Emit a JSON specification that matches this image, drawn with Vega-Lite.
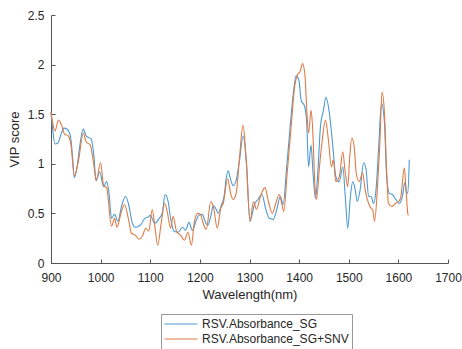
{
  "$schema": "https://vega.github.io/schema/vega-lite/v6.json",
  "width": 397,
  "height": 248,
  "autosize": "none",
  "padding": {"left": 51, "top": 15, "right": 14, "bottom": 86},
  "background": "white",
  "config": {
    "view": {"stroke": null},
    "font": "Liberation Sans",
    "axis": {
      "domainColor": "#555555",
      "tickColor": "#555555",
      "labelColor": "#262626",
      "titleColor": "#262626",
      "labelFont": "Liberation Sans",
      "titleFont": "Liberation Sans",
      "labelFontSize": 12,
      "titleFontSize": 13,
      "titleFontWeight": "normal",
      "grid": false
    }
  },
  "data": {
    "values": [
      {"wavelength": 900, "vip": 1.52, "series": "RSV.Absorbance_SG"},
      {"wavelength": 904, "vip": 1.32, "series": "RSV.Absorbance_SG"},
      {"wavelength": 908, "vip": 1.2, "series": "RSV.Absorbance_SG"},
      {"wavelength": 914, "vip": 1.21, "series": "RSV.Absorbance_SG"},
      {"wavelength": 919, "vip": 1.28, "series": "RSV.Absorbance_SG"},
      {"wavelength": 926, "vip": 1.36, "series": "RSV.Absorbance_SG"},
      {"wavelength": 932, "vip": 1.35, "series": "RSV.Absorbance_SG"},
      {"wavelength": 939, "vip": 1.28, "series": "RSV.Absorbance_SG"},
      {"wavelength": 943, "vip": 1.1, "series": "RSV.Absorbance_SG"},
      {"wavelength": 947, "vip": 0.86, "series": "RSV.Absorbance_SG"},
      {"wavelength": 952, "vip": 0.95, "series": "RSV.Absorbance_SG"},
      {"wavelength": 958, "vip": 1.18, "series": "RSV.Absorbance_SG"},
      {"wavelength": 965, "vip": 1.35, "series": "RSV.Absorbance_SG"},
      {"wavelength": 971, "vip": 1.28, "series": "RSV.Absorbance_SG"},
      {"wavelength": 981, "vip": 1.25, "series": "RSV.Absorbance_SG"},
      {"wavelength": 986, "vip": 1.1, "series": "RSV.Absorbance_SG"},
      {"wavelength": 991, "vip": 0.83, "series": "RSV.Absorbance_SG"},
      {"wavelength": 998, "vip": 0.92, "series": "RSV.Absorbance_SG"},
      {"wavelength": 1006, "vip": 0.77, "series": "RSV.Absorbance_SG"},
      {"wavelength": 1012, "vip": 0.82, "series": "RSV.Absorbance_SG"},
      {"wavelength": 1017, "vip": 0.7, "series": "RSV.Absorbance_SG"},
      {"wavelength": 1022, "vip": 0.45, "series": "RSV.Absorbance_SG"},
      {"wavelength": 1028, "vip": 0.49, "series": "RSV.Absorbance_SG"},
      {"wavelength": 1035, "vip": 0.42, "series": "RSV.Absorbance_SG"},
      {"wavelength": 1042, "vip": 0.57, "series": "RSV.Absorbance_SG"},
      {"wavelength": 1050, "vip": 0.67, "series": "RSV.Absorbance_SG"},
      {"wavelength": 1056, "vip": 0.6, "series": "RSV.Absorbance_SG"},
      {"wavelength": 1064, "vip": 0.4, "series": "RSV.Absorbance_SG"},
      {"wavelength": 1070, "vip": 0.36, "series": "RSV.Absorbance_SG"},
      {"wavelength": 1080, "vip": 0.38, "series": "RSV.Absorbance_SG"},
      {"wavelength": 1089, "vip": 0.45, "series": "RSV.Absorbance_SG"},
      {"wavelength": 1095, "vip": 0.46, "series": "RSV.Absorbance_SG"},
      {"wavelength": 1100, "vip": 0.48, "series": "RSV.Absorbance_SG"},
      {"wavelength": 1109, "vip": 0.4, "series": "RSV.Absorbance_SG"},
      {"wavelength": 1118, "vip": 0.45, "series": "RSV.Absorbance_SG"},
      {"wavelength": 1124, "vip": 0.5, "series": "RSV.Absorbance_SG"},
      {"wavelength": 1130, "vip": 0.69, "series": "RSV.Absorbance_SG"},
      {"wavelength": 1136, "vip": 0.62, "series": "RSV.Absorbance_SG"},
      {"wavelength": 1141, "vip": 0.45, "series": "RSV.Absorbance_SG"},
      {"wavelength": 1148, "vip": 0.32, "series": "RSV.Absorbance_SG"},
      {"wavelength": 1156, "vip": 0.31, "series": "RSV.Absorbance_SG"},
      {"wavelength": 1165, "vip": 0.36, "series": "RSV.Absorbance_SG"},
      {"wavelength": 1171, "vip": 0.33, "series": "RSV.Absorbance_SG"},
      {"wavelength": 1178, "vip": 0.41, "series": "RSV.Absorbance_SG"},
      {"wavelength": 1185, "vip": 0.33, "series": "RSV.Absorbance_SG"},
      {"wavelength": 1192, "vip": 0.42, "series": "RSV.Absorbance_SG"},
      {"wavelength": 1198, "vip": 0.48, "series": "RSV.Absorbance_SG"},
      {"wavelength": 1205, "vip": 0.49, "series": "RSV.Absorbance_SG"},
      {"wavelength": 1212, "vip": 0.4, "series": "RSV.Absorbance_SG"},
      {"wavelength": 1216, "vip": 0.38, "series": "RSV.Absorbance_SG"},
      {"wavelength": 1222, "vip": 0.47, "series": "RSV.Absorbance_SG"},
      {"wavelength": 1227, "vip": 0.58, "series": "RSV.Absorbance_SG"},
      {"wavelength": 1232, "vip": 0.55, "series": "RSV.Absorbance_SG"},
      {"wavelength": 1237, "vip": 0.5, "series": "RSV.Absorbance_SG"},
      {"wavelength": 1243, "vip": 0.58, "series": "RSV.Absorbance_SG"},
      {"wavelength": 1249, "vip": 0.68, "series": "RSV.Absorbance_SG"},
      {"wavelength": 1253, "vip": 0.85, "series": "RSV.Absorbance_SG"},
      {"wavelength": 1257, "vip": 0.93, "series": "RSV.Absorbance_SG"},
      {"wavelength": 1262, "vip": 0.84, "series": "RSV.Absorbance_SG"},
      {"wavelength": 1267, "vip": 0.78, "series": "RSV.Absorbance_SG"},
      {"wavelength": 1273, "vip": 0.83, "series": "RSV.Absorbance_SG"},
      {"wavelength": 1280, "vip": 1.04, "series": "RSV.Absorbance_SG"},
      {"wavelength": 1287, "vip": 1.28, "series": "RSV.Absorbance_SG"},
      {"wavelength": 1294, "vip": 1.0, "series": "RSV.Absorbance_SG"},
      {"wavelength": 1301, "vip": 0.42, "series": "RSV.Absorbance_SG"},
      {"wavelength": 1310, "vip": 0.59, "series": "RSV.Absorbance_SG"},
      {"wavelength": 1317, "vip": 0.64, "series": "RSV.Absorbance_SG"},
      {"wavelength": 1325, "vip": 0.69, "series": "RSV.Absorbance_SG"},
      {"wavelength": 1333, "vip": 0.54, "series": "RSV.Absorbance_SG"},
      {"wavelength": 1340, "vip": 0.45, "series": "RSV.Absorbance_SG"},
      {"wavelength": 1348, "vip": 0.44, "series": "RSV.Absorbance_SG"},
      {"wavelength": 1355, "vip": 0.54, "series": "RSV.Absorbance_SG"},
      {"wavelength": 1362, "vip": 0.67, "series": "RSV.Absorbance_SG"},
      {"wavelength": 1368, "vip": 0.59, "series": "RSV.Absorbance_SG"},
      {"wavelength": 1374, "vip": 0.91, "series": "RSV.Absorbance_SG"},
      {"wavelength": 1382, "vip": 1.38, "series": "RSV.Absorbance_SG"},
      {"wavelength": 1389, "vip": 1.74, "series": "RSV.Absorbance_SG"},
      {"wavelength": 1394, "vip": 1.89, "series": "RSV.Absorbance_SG"},
      {"wavelength": 1400, "vip": 1.83, "series": "RSV.Absorbance_SG"},
      {"wavelength": 1404, "vip": 1.64, "series": "RSV.Absorbance_SG"},
      {"wavelength": 1411, "vip": 1.58, "series": "RSV.Absorbance_SG"},
      {"wavelength": 1415, "vip": 1.44, "series": "RSV.Absorbance_SG"},
      {"wavelength": 1419, "vip": 0.97, "series": "RSV.Absorbance_SG"},
      {"wavelength": 1424, "vip": 1.19, "series": "RSV.Absorbance_SG"},
      {"wavelength": 1428, "vip": 0.91, "series": "RSV.Absorbance_SG"},
      {"wavelength": 1433, "vip": 0.65, "series": "RSV.Absorbance_SG"},
      {"wavelength": 1438, "vip": 0.94, "series": "RSV.Absorbance_SG"},
      {"wavelength": 1443, "vip": 1.38, "series": "RSV.Absorbance_SG"},
      {"wavelength": 1449, "vip": 1.54, "series": "RSV.Absorbance_SG"},
      {"wavelength": 1454, "vip": 1.67, "series": "RSV.Absorbance_SG"},
      {"wavelength": 1461, "vip": 1.51, "series": "RSV.Absorbance_SG"},
      {"wavelength": 1468, "vip": 1.17, "series": "RSV.Absorbance_SG"},
      {"wavelength": 1474, "vip": 0.87, "series": "RSV.Absorbance_SG"},
      {"wavelength": 1481, "vip": 0.82, "series": "RSV.Absorbance_SG"},
      {"wavelength": 1488, "vip": 0.97, "series": "RSV.Absorbance_SG"},
      {"wavelength": 1493, "vip": 0.67, "series": "RSV.Absorbance_SG"},
      {"wavelength": 1498, "vip": 0.35, "series": "RSV.Absorbance_SG"},
      {"wavelength": 1503, "vip": 0.65, "series": "RSV.Absorbance_SG"},
      {"wavelength": 1508, "vip": 0.82, "series": "RSV.Absorbance_SG"},
      {"wavelength": 1513, "vip": 0.74, "series": "RSV.Absorbance_SG"},
      {"wavelength": 1517, "vip": 0.62, "series": "RSV.Absorbance_SG"},
      {"wavelength": 1523, "vip": 0.74, "series": "RSV.Absorbance_SG"},
      {"wavelength": 1530, "vip": 1.01, "series": "RSV.Absorbance_SG"},
      {"wavelength": 1535, "vip": 0.94, "series": "RSV.Absorbance_SG"},
      {"wavelength": 1540, "vip": 0.67, "series": "RSV.Absorbance_SG"},
      {"wavelength": 1545, "vip": 0.67, "series": "RSV.Absorbance_SG"},
      {"wavelength": 1550, "vip": 0.6, "series": "RSV.Absorbance_SG"},
      {"wavelength": 1555, "vip": 0.74, "series": "RSV.Absorbance_SG"},
      {"wavelength": 1560, "vip": 1.14, "series": "RSV.Absorbance_SG"},
      {"wavelength": 1566, "vip": 1.61, "series": "RSV.Absorbance_SG"},
      {"wavelength": 1572, "vip": 1.41, "series": "RSV.Absorbance_SG"},
      {"wavelength": 1576, "vip": 0.91, "series": "RSV.Absorbance_SG"},
      {"wavelength": 1582, "vip": 0.7, "series": "RSV.Absorbance_SG"},
      {"wavelength": 1588, "vip": 0.69, "series": "RSV.Absorbance_SG"},
      {"wavelength": 1595, "vip": 0.64, "series": "RSV.Absorbance_SG"},
      {"wavelength": 1602, "vip": 0.6, "series": "RSV.Absorbance_SG"},
      {"wavelength": 1608, "vip": 0.67, "series": "RSV.Absorbance_SG"},
      {"wavelength": 1613, "vip": 0.81, "series": "RSV.Absorbance_SG"},
      {"wavelength": 1616, "vip": 0.72, "series": "RSV.Absorbance_SG"},
      {"wavelength": 1619, "vip": 0.7, "series": "RSV.Absorbance_SG"},
      {"wavelength": 1622, "vip": 1.04, "series": "RSV.Absorbance_SG"},

      {"wavelength": 900, "vip": 1.52, "series": "RSV.Absorbance_SG+SNV"},
      {"wavelength": 904, "vip": 1.4, "series": "RSV.Absorbance_SG+SNV"},
      {"wavelength": 908, "vip": 1.33, "series": "RSV.Absorbance_SG+SNV"},
      {"wavelength": 915, "vip": 1.44, "series": "RSV.Absorbance_SG+SNV"},
      {"wavelength": 922, "vip": 1.38, "series": "RSV.Absorbance_SG+SNV"},
      {"wavelength": 927, "vip": 1.3, "series": "RSV.Absorbance_SG+SNV"},
      {"wavelength": 935, "vip": 1.28, "series": "RSV.Absorbance_SG+SNV"},
      {"wavelength": 940, "vip": 1.2, "series": "RSV.Absorbance_SG+SNV"},
      {"wavelength": 947, "vip": 0.88, "series": "RSV.Absorbance_SG+SNV"},
      {"wavelength": 956, "vip": 1.05, "series": "RSV.Absorbance_SG+SNV"},
      {"wavelength": 965, "vip": 1.31, "series": "RSV.Absorbance_SG+SNV"},
      {"wavelength": 971, "vip": 1.22, "series": "RSV.Absorbance_SG+SNV"},
      {"wavelength": 979, "vip": 1.19, "series": "RSV.Absorbance_SG+SNV"},
      {"wavelength": 986, "vip": 1.0, "series": "RSV.Absorbance_SG+SNV"},
      {"wavelength": 991, "vip": 0.83, "series": "RSV.Absorbance_SG+SNV"},
      {"wavelength": 1000, "vip": 1.01, "series": "RSV.Absorbance_SG+SNV"},
      {"wavelength": 1006, "vip": 0.78, "series": "RSV.Absorbance_SG+SNV"},
      {"wavelength": 1012, "vip": 0.76, "series": "RSV.Absorbance_SG+SNV"},
      {"wavelength": 1022, "vip": 0.37, "series": "RSV.Absorbance_SG+SNV"},
      {"wavelength": 1028, "vip": 0.45, "series": "RSV.Absorbance_SG+SNV"},
      {"wavelength": 1033, "vip": 0.36, "series": "RSV.Absorbance_SG+SNV"},
      {"wavelength": 1040, "vip": 0.48, "series": "RSV.Absorbance_SG+SNV"},
      {"wavelength": 1048, "vip": 0.59, "series": "RSV.Absorbance_SG+SNV"},
      {"wavelength": 1057, "vip": 0.42, "series": "RSV.Absorbance_SG+SNV"},
      {"wavelength": 1062, "vip": 0.3, "series": "RSV.Absorbance_SG+SNV"},
      {"wavelength": 1070, "vip": 0.28, "series": "RSV.Absorbance_SG+SNV"},
      {"wavelength": 1077, "vip": 0.24, "series": "RSV.Absorbance_SG+SNV"},
      {"wavelength": 1084, "vip": 0.27, "series": "RSV.Absorbance_SG+SNV"},
      {"wavelength": 1091, "vip": 0.35, "series": "RSV.Absorbance_SG+SNV"},
      {"wavelength": 1097, "vip": 0.32, "series": "RSV.Absorbance_SG+SNV"},
      {"wavelength": 1104, "vip": 0.54, "series": "RSV.Absorbance_SG+SNV"},
      {"wavelength": 1109, "vip": 0.38, "series": "RSV.Absorbance_SG+SNV"},
      {"wavelength": 1115, "vip": 0.18, "series": "RSV.Absorbance_SG+SNV"},
      {"wavelength": 1122, "vip": 0.4, "series": "RSV.Absorbance_SG+SNV"},
      {"wavelength": 1129, "vip": 0.6, "series": "RSV.Absorbance_SG+SNV"},
      {"wavelength": 1134, "vip": 0.52, "series": "RSV.Absorbance_SG+SNV"},
      {"wavelength": 1141, "vip": 0.35, "series": "RSV.Absorbance_SG+SNV"},
      {"wavelength": 1146, "vip": 0.47, "series": "RSV.Absorbance_SG+SNV"},
      {"wavelength": 1153, "vip": 0.32, "series": "RSV.Absorbance_SG+SNV"},
      {"wavelength": 1161, "vip": 0.28, "series": "RSV.Absorbance_SG+SNV"},
      {"wavelength": 1169, "vip": 0.23, "series": "RSV.Absorbance_SG+SNV"},
      {"wavelength": 1176, "vip": 0.31, "series": "RSV.Absorbance_SG+SNV"},
      {"wavelength": 1183, "vip": 0.18, "series": "RSV.Absorbance_SG+SNV"},
      {"wavelength": 1189, "vip": 0.42, "series": "RSV.Absorbance_SG+SNV"},
      {"wavelength": 1196, "vip": 0.5, "series": "RSV.Absorbance_SG+SNV"},
      {"wavelength": 1201, "vip": 0.49, "series": "RSV.Absorbance_SG+SNV"},
      {"wavelength": 1208, "vip": 0.38, "series": "RSV.Absorbance_SG+SNV"},
      {"wavelength": 1213, "vip": 0.34, "series": "RSV.Absorbance_SG+SNV"},
      {"wavelength": 1222, "vip": 0.62, "series": "RSV.Absorbance_SG+SNV"},
      {"wavelength": 1228, "vip": 0.55, "series": "RSV.Absorbance_SG+SNV"},
      {"wavelength": 1235, "vip": 0.35, "series": "RSV.Absorbance_SG+SNV"},
      {"wavelength": 1242, "vip": 0.55, "series": "RSV.Absorbance_SG+SNV"},
      {"wavelength": 1247, "vip": 0.6, "series": "RSV.Absorbance_SG+SNV"},
      {"wavelength": 1256, "vip": 0.85, "series": "RSV.Absorbance_SG+SNV"},
      {"wavelength": 1262, "vip": 0.7, "series": "RSV.Absorbance_SG+SNV"},
      {"wavelength": 1267, "vip": 0.64, "series": "RSV.Absorbance_SG+SNV"},
      {"wavelength": 1273, "vip": 0.7, "series": "RSV.Absorbance_SG+SNV"},
      {"wavelength": 1280, "vip": 1.07, "series": "RSV.Absorbance_SG+SNV"},
      {"wavelength": 1287, "vip": 1.39, "series": "RSV.Absorbance_SG+SNV"},
      {"wavelength": 1293, "vip": 1.07, "series": "RSV.Absorbance_SG+SNV"},
      {"wavelength": 1301, "vip": 0.42, "series": "RSV.Absorbance_SG+SNV"},
      {"wavelength": 1308, "vip": 0.62, "series": "RSV.Absorbance_SG+SNV"},
      {"wavelength": 1314, "vip": 0.54, "series": "RSV.Absorbance_SG+SNV"},
      {"wavelength": 1322, "vip": 0.67, "series": "RSV.Absorbance_SG+SNV"},
      {"wavelength": 1331, "vip": 0.76, "series": "RSV.Absorbance_SG+SNV"},
      {"wavelength": 1339, "vip": 0.6, "series": "RSV.Absorbance_SG+SNV"},
      {"wavelength": 1346, "vip": 0.5, "series": "RSV.Absorbance_SG+SNV"},
      {"wavelength": 1353, "vip": 0.6, "series": "RSV.Absorbance_SG+SNV"},
      {"wavelength": 1360, "vip": 0.69, "series": "RSV.Absorbance_SG+SNV"},
      {"wavelength": 1365, "vip": 0.6, "series": "RSV.Absorbance_SG+SNV"},
      {"wavelength": 1369, "vip": 0.52, "series": "RSV.Absorbance_SG+SNV"},
      {"wavelength": 1376, "vip": 0.91, "series": "RSV.Absorbance_SG+SNV"},
      {"wavelength": 1384, "vip": 1.38, "series": "RSV.Absorbance_SG+SNV"},
      {"wavelength": 1391, "vip": 1.78, "series": "RSV.Absorbance_SG+SNV"},
      {"wavelength": 1397, "vip": 1.9, "series": "RSV.Absorbance_SG+SNV"},
      {"wavelength": 1402, "vip": 1.93, "series": "RSV.Absorbance_SG+SNV"},
      {"wavelength": 1407, "vip": 2.01, "series": "RSV.Absorbance_SG+SNV"},
      {"wavelength": 1412, "vip": 1.88, "series": "RSV.Absorbance_SG+SNV"},
      {"wavelength": 1415, "vip": 1.58, "series": "RSV.Absorbance_SG+SNV"},
      {"wavelength": 1419, "vip": 1.31, "series": "RSV.Absorbance_SG+SNV"},
      {"wavelength": 1424, "vip": 1.54, "series": "RSV.Absorbance_SG+SNV"},
      {"wavelength": 1427, "vip": 1.38, "series": "RSV.Absorbance_SG+SNV"},
      {"wavelength": 1432, "vip": 0.77, "series": "RSV.Absorbance_SG+SNV"},
      {"wavelength": 1435, "vip": 0.64, "series": "RSV.Absorbance_SG+SNV"},
      {"wavelength": 1441, "vip": 0.97, "series": "RSV.Absorbance_SG+SNV"},
      {"wavelength": 1446, "vip": 1.21, "series": "RSV.Absorbance_SG+SNV"},
      {"wavelength": 1453, "vip": 1.44, "series": "RSV.Absorbance_SG+SNV"},
      {"wavelength": 1459, "vip": 1.24, "series": "RSV.Absorbance_SG+SNV"},
      {"wavelength": 1465, "vip": 0.97, "series": "RSV.Absorbance_SG+SNV"},
      {"wavelength": 1469, "vip": 1.04, "series": "RSV.Absorbance_SG+SNV"},
      {"wavelength": 1474, "vip": 0.82, "series": "RSV.Absorbance_SG+SNV"},
      {"wavelength": 1481, "vip": 0.87, "series": "RSV.Absorbance_SG+SNV"},
      {"wavelength": 1488, "vip": 1.12, "series": "RSV.Absorbance_SG+SNV"},
      {"wavelength": 1493, "vip": 0.91, "series": "RSV.Absorbance_SG+SNV"},
      {"wavelength": 1498, "vip": 0.77, "series": "RSV.Absorbance_SG+SNV"},
      {"wavelength": 1502, "vip": 1.07, "series": "RSV.Absorbance_SG+SNV"},
      {"wavelength": 1506, "vip": 1.26, "series": "RSV.Absorbance_SG+SNV"},
      {"wavelength": 1511, "vip": 1.17, "series": "RSV.Absorbance_SG+SNV"},
      {"wavelength": 1515, "vip": 0.91, "series": "RSV.Absorbance_SG+SNV"},
      {"wavelength": 1521, "vip": 0.82, "series": "RSV.Absorbance_SG+SNV"},
      {"wavelength": 1528, "vip": 0.91, "series": "RSV.Absorbance_SG+SNV"},
      {"wavelength": 1533, "vip": 0.74, "series": "RSV.Absorbance_SG+SNV"},
      {"wavelength": 1540, "vip": 0.6, "series": "RSV.Absorbance_SG+SNV"},
      {"wavelength": 1545, "vip": 0.55, "series": "RSV.Absorbance_SG+SNV"},
      {"wavelength": 1548, "vip": 0.54, "series": "RSV.Absorbance_SG+SNV"},
      {"wavelength": 1552, "vip": 0.42, "series": "RSV.Absorbance_SG+SNV"},
      {"wavelength": 1558, "vip": 0.77, "series": "RSV.Absorbance_SG+SNV"},
      {"wavelength": 1563, "vip": 1.24, "series": "RSV.Absorbance_SG+SNV"},
      {"wavelength": 1567, "vip": 1.72, "series": "RSV.Absorbance_SG+SNV"},
      {"wavelength": 1572, "vip": 1.51, "series": "RSV.Absorbance_SG+SNV"},
      {"wavelength": 1576, "vip": 0.97, "series": "RSV.Absorbance_SG+SNV"},
      {"wavelength": 1580, "vip": 0.6, "series": "RSV.Absorbance_SG+SNV"},
      {"wavelength": 1587, "vip": 0.57, "series": "RSV.Absorbance_SG+SNV"},
      {"wavelength": 1594, "vip": 0.6, "series": "RSV.Absorbance_SG+SNV"},
      {"wavelength": 1601, "vip": 0.62, "series": "RSV.Absorbance_SG+SNV"},
      {"wavelength": 1605, "vip": 0.67, "series": "RSV.Absorbance_SG+SNV"},
      {"wavelength": 1612, "vip": 0.96, "series": "RSV.Absorbance_SG+SNV"},
      {"wavelength": 1615, "vip": 0.77, "series": "RSV.Absorbance_SG+SNV"},
      {"wavelength": 1619, "vip": 0.5, "series": "RSV.Absorbance_SG+SNV"},
      {"wavelength": 1620, "vip": 0.48, "series": "RSV.Absorbance_SG+SNV"}
    ]
  },
  "mark": {"type": "line", "interpolate": "monotone", "strokeWidth": 1.1},
  "encoding": {
    "x": {
      "field": "wavelength",
      "type": "quantitative",
      "scale": {"domain": [900, 1700], "nice": false, "zero": false},
      "axis": {
        "title": "Wavelength(nm)",
        "values": [900, 1000, 1100, 1200, 1300, 1400, 1500, 1600, 1700],
        "format": "d",
        "tickSize": -4,
        "labelPadding": 13,
        "titlePadding": 5,
        "labelFlush": false
      }
    },
    "y": {
      "field": "vip",
      "type": "quantitative",
      "scale": {"domain": [0, 2.5], "nice": false},
      "axis": {
        "title": "VIP score",
        "values": [0, 0.5, 1, 1.5, 2, 2.5],
        "format": "~g",
        "tickSize": -4,
        "labelPadding": 11,
        "titlePadding": 6,
        "labelFlush": false
      }
    },
    "color": {
      "field": "series",
      "type": "nominal",
      "scale": {
        "domain": ["RSV.Absorbance_SG", "RSV.Absorbance_SG+SNV"],
        "range": ["#4A9AD4", "#E07A45"]
      },
      "legend": {
        "title": null,
        "orient": "none",
        "legendX": 110,
        "legendY": 299,
        "direction": "vertical",
        "symbolType": "stroke",
        "symbolSize": 1089,
        "clipHeight": 14,
        "symbolStrokeWidth": 1,
        "labelFont": "Liberation Sans",
        "labelFontSize": 12,
        "labelColor": "#262626",
        "labelOffset": 4,
        "rowPadding": 1,
        "padding": 3,
        "strokeColor": "#999999",
        "fillColor": "white"
      }
    }
  }
}
